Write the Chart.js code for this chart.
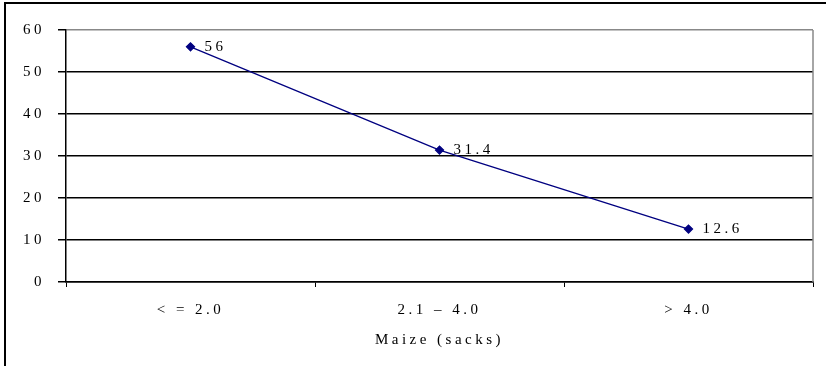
<!DOCTYPE html>
<html>
<head>
<meta charset="utf-8">
<script src="https://cdn.jsdelivr.net/npm/chart.js@4/dist/chart.umd.min.js"></script>
<style>
  html, body { margin: 0; padding: 0; background: #fff; }
  #wrap { position: relative; width: 826px; height: 366px; }
</style>
</head>
<body>
<div id="wrap"><canvas id="c" width="826" height="366"></canvas></div>
<script>
// Share of households by maize harvest (sacks)
const categories = ['< = 2.0', '2.1 – 4.0', '> 4.0'];
const shares = [56, 31.4, 12.6];
const yTicks = [0, 10, 20, 30, 40, 50, 60];
const xTitle = 'Maize (sacks)';

const FONT = "'Liberation Serif', 'Times New Roman', serif";
const SPACING = '3.5px';

// spaced serif lettering everywhere
const spacingPlugin = {
  id: 'spacing',
  beforeInit(chart) { chart.ctx.letterSpacing = SPACING; },
  beforeUpdate(chart) { chart.ctx.letterSpacing = SPACING; },
  beforeDraw(chart) { chart.ctx.letterSpacing = SPACING; }
};

// frame of the chart area plus grey right edge of the plot
const framePlugin = {
  id: 'frame',
  beforeDraw(chart) {
    const ctx = chart.ctx;
    ctx.save();
    ctx.fillStyle = '#fff';
    ctx.fillRect(0, 0, chart.width, chart.height);
    ctx.strokeStyle = '#000';
    ctx.lineWidth = 2;
    ctx.beginPath();
    ctx.moveTo(5, chart.height + 5);
    ctx.lineTo(5, 3);
    ctx.lineTo(chart.width + 5, 3);
    ctx.stroke();
    ctx.restore();
  },
  afterDatasetsDraw(chart) {
    const ctx = chart.ctx;
    const a = chart.chartArea;
    ctx.save();
    ctx.strokeStyle = '#888';
    ctx.lineWidth = 1.5;
    ctx.beginPath();
    ctx.moveTo(a.right, a.top);
    ctx.lineTo(a.right, a.bottom);
    ctx.stroke();
    ctx.restore();
  }
};

// value labels to the right of each marker
const valueLabels = {
  id: 'valueLabels',
  afterDatasetsDraw(chart) {
    const ctx = chart.ctx;
    const meta = chart.getDatasetMeta(0);
    ctx.save();
    ctx.letterSpacing = SPACING;
    ctx.font = '15px ' + FONT;
    ctx.fillStyle = '#000';
    ctx.textAlign = 'left';
    ctx.textBaseline = 'middle';
    meta.data.forEach((pt, i) => {
      ctx.fillText(String(shares[i]), pt.x + 14, pt.y);
    });
    ctx.restore();
  }
};

new Chart(document.getElementById('c'), {
  type: 'line',
  data: {
    labels: categories,
    datasets: [{
      data: shares,
      borderColor: '#000080',
      backgroundColor: '#000080',
      borderWidth: 1.3,
      pointStyle: 'rectRot',
      pointRadius: 4,
      pointHoverRadius: 4,
      tension: 0,
      fill: false
    }]
  },
  options: {
    responsive: false,
    animation: false,
    events: [],
    layout: { padding: { top: 30, right: 13, left: 0, bottom: 0 } },
    plugins: { legend: { display: false }, tooltip: { enabled: false } },
    scales: {
      x: {
        offset: true,
        grid: {
          offset: true,
          drawOnChartArea: false,
          drawTicks: true,
          tickLength: 5,
          color: '#000',
          lineWidth: 1
        },
        border: { color: '#000', width: 1.5 },
        ticks: {
          color: '#000',
          padding: 14,
          font: { family: FONT, size: 15 },
          maxRotation: 0
        },
        title: {
          display: true,
          text: xTitle,
          color: '#000',
          font: { family: FONT, size: 15 },
          padding: { top: 4, bottom: 17 }
        },
        afterFit(scale) { scale.height = 84; }
      },
      y: {
        min: 0,
        max: 60,
        afterBuildTicks(scale) { scale.ticks = yTicks.map(v => ({ value: v })); },
        grid: {
          color: ctx => (ctx.tick && ctx.tick.value === 60 ? '#888' : '#000'),
          lineWidth: 1.5,
          tickLength: 8,
          tickColor: '#000',
          drawTicks: true
        },
        border: { color: '#000', width: 1.5 },
        ticks: {
          color: '#000',
          padding: 13,
          font: { family: FONT, size: 15 }
        },
        afterFit(scale) { scale.width = 66; }
      }
    }
  },
  plugins: [spacingPlugin, framePlugin, valueLabels]
});
</script>
</body>
</html>
